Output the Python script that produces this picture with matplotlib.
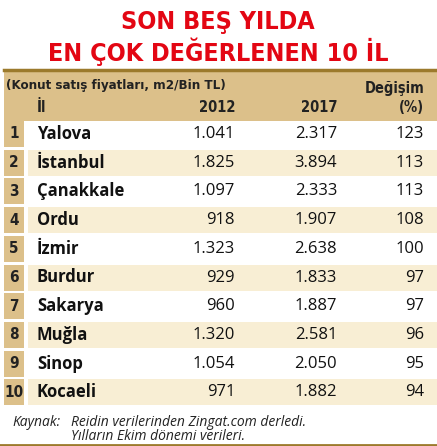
import matplotlib
matplotlib.use("Agg")
import matplotlib.pyplot as plt
from matplotlib.patches import Rectangle

cities = ["Yalova", "İstanbul", "Çanakkale", "Ordu", "İzmir", "Burdur", "Sakarya", "Muğla", "Sinop", "Kocaeli"]
v2012 = ["1.041", "1.825", "1.097", "918", "1.323", "929", "960", "1.320", "1.054", "971"]
v2017 = ["2.317", "3.894", "2.333", "1.907", "2.638", "1.833", "1.887", "2.581", "2.050", "1.882"]
change = ["123", "113", "113", "108", "100", "97", "97", "96", "95", "94"]

W, H = 437, 446
fig = plt.figure(figsize=(W/100, H/100), dpi=100)
ax = fig.add_axes([0, 0, 1, 1])
ax.set_xlim(0, W); ax.set_ylim(H, 0); ax.axis("off")

cond = dict(family="DejaVu Sans", stretch="condensed", weight="bold")
bold = dict(family="Open Sans", weight="bold")
reg = dict(family="Open Sans")
red = "#e30613"; tan = "#dcc08a"; light = "#f8eed4"; brown = "#9c7a2c"

ax.text(218, 22, "SON BEŞ YILDA", color=red, fontsize=18, ha="center", va="center", **cond)
ax.text(218, 52, "EN ÇOK DEĞERLENEN 10 İL", color=red, fontsize=18, ha="center", va="center", **cond)

ax.plot([4, 437], [70, 70], color=brown, lw=2.5)
ax.add_patch(Rectangle((4, 72), 433, 49, color=tan, lw=0))
ax.text(6, 85, "(Konut satış fiyatları, m2/Bin TL)", fontsize=9.5, color="#222", va="center", **cond)
ax.text(37, 107, "İl", fontsize=10.5, color="#222", va="center", **cond)
ax.text(235, 107, "2012", fontsize=10.5, color="#222", va="center", ha="right", **cond)
ax.text(337, 107, "2017", fontsize=10.5, color="#222", va="center", ha="right", **cond)
ax.text(424, 89, "Değişim", fontsize=10.5, color="#222", va="center", ha="right", **cond)
ax.text(424, 107, "(%)", fontsize=10.5, color="#222", va="center", ha="right", **cond)

y0, dy = 134, 28.7
for i, c in enumerate(cities):
    y = y0 + i*dy
    ax.add_patch(Rectangle((4, y-13), 20, 26, color=tan, lw=0))
    if i % 2 == 1:
        ax.add_patch(Rectangle((28, y-13), 409, 26, color=light, lw=0))
    ax.text(14, y, str(i+1), fontsize=11, color="#222", ha="center", va="center", **cond)
    ax.text(37, y, c, fontsize=12, color="#111", va="center", **bold)
    ax.text(235, y, v2012[i], fontsize=12, color="#111", va="center", ha="right", **reg)
    ax.text(337, y, v2017[i], fontsize=12, color="#111", va="center", ha="right", **reg)
    ax.text(424, y, change[i], fontsize=12, color="#111", va="center", ha="right", **reg)

ax.text(12, 422, "Kaynak:", fontsize=10, style="italic", color="#222", va="center", **reg)
ax.text(71, 422, "Reidin verilerinden Zingat.com derledi.", fontsize=10, style="italic", color="#222", va="center", **reg)
ax.text(71, 436, "Yılların Ekim dönemi verileri.", fontsize=10, style="italic", color="#222", va="center", **reg)
ax.plot([0, 437], [445, 445], color=brown, lw=2)

fig.savefig("out.png", dpi=100)
